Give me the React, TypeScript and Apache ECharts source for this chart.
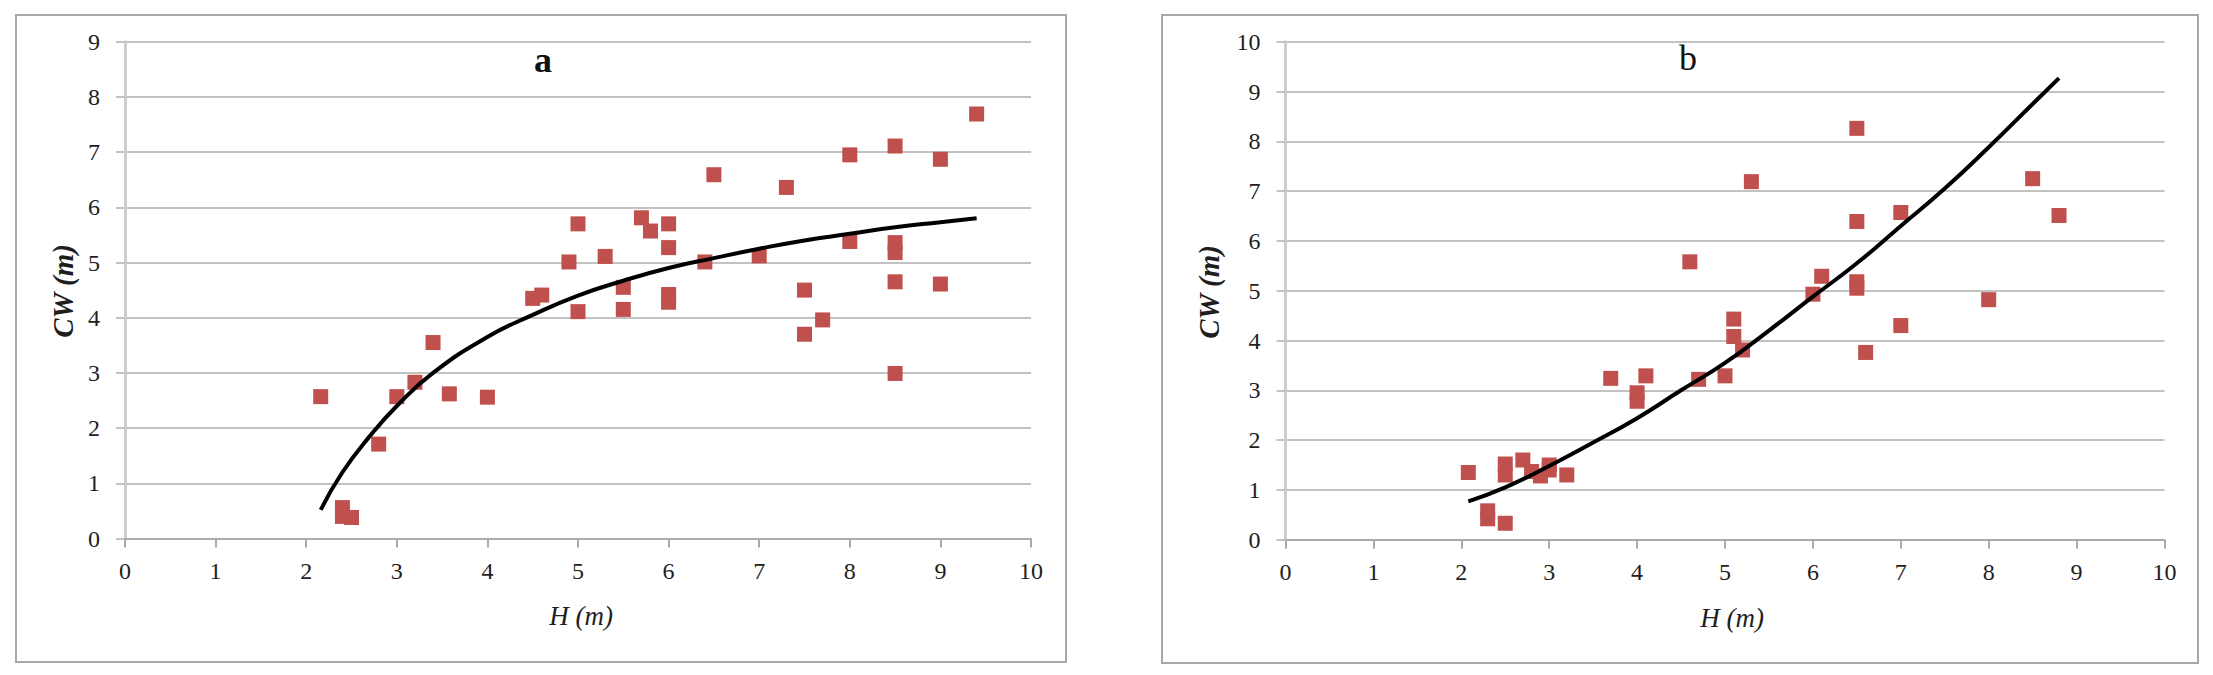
import { useEffect, useRef } from "react";
import * as echarts from "echarts";

// ---------- data ----------
const xTickValues = [0, 1, 2, 3, 4, 5, 6, 7, 8, 9, 10];

// Panel a: H (m) vs CW (m)
const aPoints: [number, number][] = [
  [2.16, 2.57], [2.4, 0.56], [2.4, 0.4], [2.5, 0.38], [2.8, 1.71], [3.0, 2.57],
  [3.2, 2.83], [3.4, 3.55], [3.58, 2.62], [4.0, 2.56], [4.5, 4.35], [4.6, 4.41],
  [4.9, 5.01], [5.0, 5.7], [5.0, 4.11], [5.3, 5.11], [5.5, 4.55], [5.5, 4.15],
  [5.7, 5.81], [5.8, 5.57], [6.0, 5.7], [6.0, 5.27], [6.0, 4.42], [6.0, 4.28],
  [6.4, 5.01], [6.5, 6.59], [7.0, 5.12], [7.3, 6.36], [7.5, 4.5], [7.5, 3.7],
  [7.7, 3.96], [8.0, 6.95], [8.0, 5.38], [8.5, 7.11], [8.5, 5.36], [8.5, 5.18],
  [8.5, 4.65], [8.5, 2.99], [9.0, 6.87], [9.0, 4.61], [9.4, 7.69],
];
const aTrend: [number, number][] = [
  [2.16, 0.52], [2.4, 1.2], [2.7, 1.85], [3.0, 2.4], [3.4, 3.0], [4.0, 3.65],
  [4.5, 4.05], [5.0, 4.4], [5.5, 4.67], [6.0, 4.9], [6.5, 5.08], [7.0, 5.25],
  [7.5, 5.4], [8.0, 5.52], [8.5, 5.64], [9.0, 5.73], [9.4, 5.8],
];

// Panel b
const bPoints: [number, number][] = [
  [2.08, 1.35], [2.3, 0.58], [2.3, 0.42], [2.5, 1.52], [2.5, 1.3], [2.5, 0.33],
  [2.7, 1.6], [2.8, 1.37], [2.9, 1.28], [3.0, 1.5], [3.0, 1.4], [3.2, 1.3],
  [3.7, 3.24], [4.0, 2.95], [4.0, 2.78], [4.1, 3.29], [4.6, 5.58], [4.7, 3.22],
  [5.0, 3.29], [5.1, 4.43], [5.1, 4.08], [5.2, 3.81], [5.3, 7.19], [6.0, 4.93],
  [6.1, 5.29], [6.5, 8.26], [6.5, 6.39], [6.5, 5.18], [6.5, 5.05], [6.6, 3.76],
  [7.0, 6.57], [7.0, 4.3], [8.0, 4.82], [8.5, 7.25], [8.8, 6.51],
];
const bTrend: [number, number][] = [
  [2.08, 0.77], [2.5, 1.05], [3.0, 1.48], [3.5, 1.95], [4.0, 2.44], [4.5, 3.0],
  [5.0, 3.55], [5.5, 4.2], [6.0, 4.88], [6.5, 5.55], [7.0, 6.3], [7.5, 7.05],
  [8.0, 7.88], [8.5, 8.75], [8.8, 9.27],
];

const panelTitles = ["a", "b"];
const xName = "H (m)";
const yName = "CW (m)";
const yMax = [9, 10];

const FONT = "Liberation Serif";
const GRID_COLOR = "#c2c2c2";
const MARK = "#c0504d";

function xAxisFor(gridIndex: number) {
  return {
    gridIndex,
    type: "value",
    min: xTickValues[0],
    max: xTickValues[xTickValues.length - 1],
    interval: 1,
    axisLine: { show: true, onZero: false, lineStyle: { color: "#ababab", width: 2 } },
    axisTick: { show: true, length: 9, lineStyle: { color: "#ababab", width: 2 } },
    axisLabel: { color: "#1e1e1e", fontFamily: FONT, fontSize: 24, margin: 20 },
    splitLine: { show: false },
  };
}

function yAxisFor(gridIndex: number, max: number) {
  return {
    gridIndex,
    type: "value",
    min: 0,
    max,
    interval: 1,
    axisLine: { show: true, lineStyle: { color: "#cdcdcd", width: 3 } },
    axisTick: { show: true, length: 9, lineStyle: { color: GRID_COLOR, width: 2 } },
    axisLabel: { color: "#1e1e1e", fontFamily: FONT, fontSize: 24, margin: 25 },
    splitLine: { show: true, lineStyle: { color: GRID_COLOR, width: 2 } },
  };
}

export default function App() {
  const ref = useRef<HTMLDivElement>(null);
  useEffect(() => {
    const chart = echarts.init(ref.current!, null, { renderer: "svg" });
    chart.setOption({
      animation: false,
      backgroundColor: "#ffffff",
      grid: [
        { left: 125, top: 41.7, width: 906, height: 496.8 },
        { left: 1285.5, top: 41.7, width: 879, height: 498 },
      ],
      xAxis: [xAxisFor(0), xAxisFor(1)],
      yAxis: [yAxisFor(0, yMax[0]), yAxisFor(1, yMax[1])],
      series: [
        {
          type: "scatter", xAxisIndex: 0, yAxisIndex: 0, data: aPoints,
          symbol: "rect", symbolSize: 15, z: 2,
          itemStyle: { color: MARK, opacity: 1 },
        },
        {
          type: "line", xAxisIndex: 0, yAxisIndex: 0, data: aTrend, smooth: true,
          showSymbol: false, z: 3, lineStyle: { color: "#000", width: 4 },
        },
        {
          type: "scatter", xAxisIndex: 1, yAxisIndex: 1, data: bPoints,
          symbol: "rect", symbolSize: 15, z: 2,
          itemStyle: { color: MARK, opacity: 1 },
        },
        {
          type: "line", xAxisIndex: 1, yAxisIndex: 1, data: bTrend, smooth: true,
          showSymbol: false, z: 3, lineStyle: { color: "#000", width: 4 },
        },
      ],
      graphic: [
        { type: "rect", shape: { x: 16, y: 15, width: 1050, height: 647 },
          style: { fill: "none", stroke: "#a8a8a8", lineWidth: 2 }, z: -1 },
        { type: "rect", shape: { x: 1162, y: 15, width: 1036, height: 648 },
          style: { fill: "none", stroke: "#a8a8a8", lineWidth: 2 }, z: -1 },
        { type: "text", x: 543, y: 60, style: { text: panelTitles[0], fontFamily: FONT,
          fontSize: 36, fontWeight: "bold", fill: "#111", align: "center", verticalAlign: "middle" } },
        { type: "text", x: 1688, y: 58, style: { text: panelTitles[1], fontFamily: FONT,
          fontSize: 36, fill: "#111", align: "center", verticalAlign: "middle" } },
        { type: "text", x: 581, y: 616, style: { text: xName, fontFamily: FONT,
          fontSize: 27, fontStyle: "italic", fill: "#1e1e1e", align: "center", verticalAlign: "middle" } },
        { type: "text", x: 1732, y: 618, style: { text: xName, fontFamily: FONT,
          fontSize: 27, fontStyle: "italic", fill: "#1e1e1e", align: "center", verticalAlign: "middle" } },
        { type: "text", x: 63, y: 291, rotation: Math.PI / 2, style: { text: yName, fontFamily: FONT,
          fontSize: 29, fontStyle: "italic", fontWeight: "bold", fill: "#1e1e1e", align: "center", verticalAlign: "middle" } },
        { type: "text", x: 1209, y: 292, rotation: Math.PI / 2, style: { text: yName, fontFamily: FONT,
          fontSize: 29, fontStyle: "italic", fontWeight: "bold", fill: "#1e1e1e", align: "center", verticalAlign: "middle" } },
      ],
    });
    return () => chart.dispose();
  }, []);
  return (
    <div
      ref={ref}
      style={{ position: "absolute", left: 0, top: 0, width: 2213, height: 675, background: "#fff" }}
    />
  );
}
